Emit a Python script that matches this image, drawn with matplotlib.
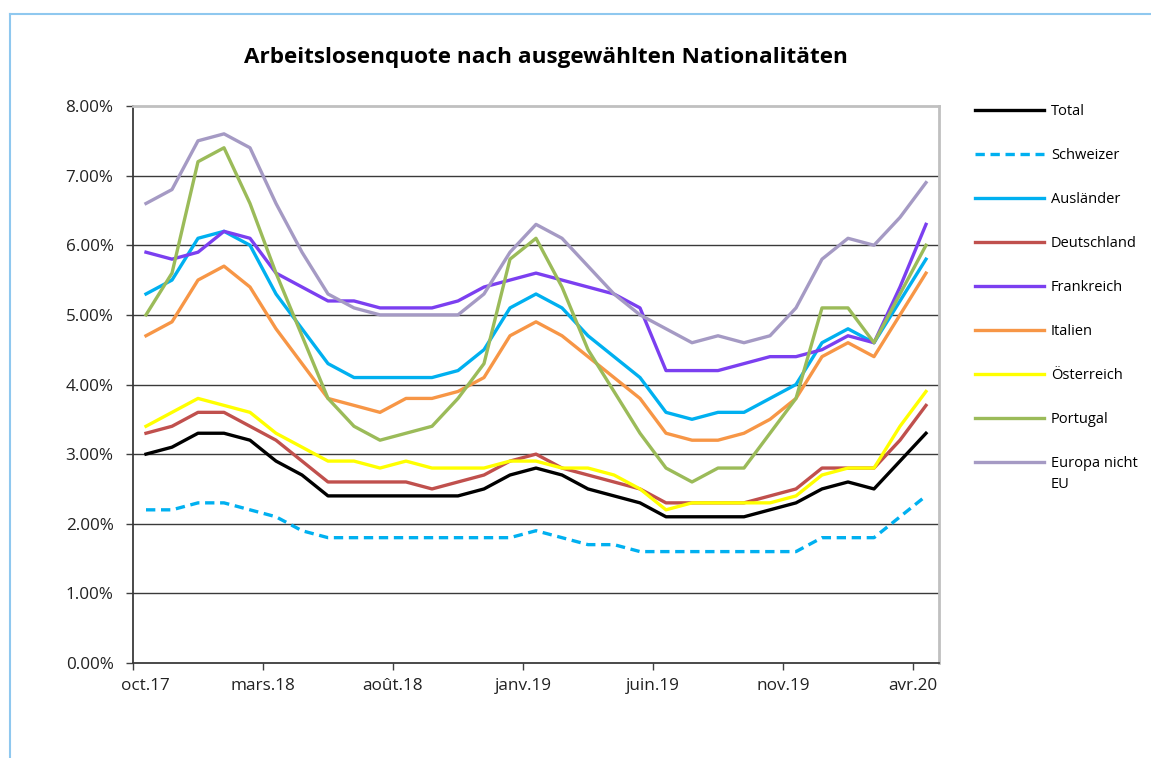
import matplotlib
matplotlib.use("Agg")
import matplotlib.pyplot as plt
import matplotlib.transforms as mtransforms
from matplotlib.lines import Line2D
import numpy as np

plt.rcParams['font.family'] = ['Open Sans', 'DejaVu Sans']

# monthly values oct.17 .. avr.20 (%)
months = ['oct.17', 'nov.17', 'déc.17', 'janv.18', 'févr.18', 'mars.18', 'avr.18', 'mai.18',
          'juin.18', 'juil.18', 'août.18', 'sept.18', 'oct.18', 'nov.18', 'déc.18', 'janv.19',
          'févr.19', 'mars.19', 'avr.19', 'mai.19', 'juin.19', 'juil.19', 'août.19', 'sept.19',
          'oct.19', 'nov.19', 'déc.19', 'janv.20', 'févr.20', 'mars.20', 'avr.20']

total = [3.0, 3.1, 3.3, 3.3, 3.2, 2.9, 2.7, 2.4, 2.4, 2.4, 2.4, 2.4, 2.4, 2.5, 2.7, 2.8,
         2.7, 2.5, 2.4, 2.3, 2.1, 2.1, 2.1, 2.1, 2.2, 2.3, 2.5, 2.6, 2.5, 2.9, 3.3]
schweizer = [2.2, 2.2, 2.3, 2.3, 2.2, 2.1, 1.9, 1.8, 1.8, 1.8, 1.8, 1.8, 1.8, 1.8, 1.8, 1.9,
             1.8, 1.7, 1.7, 1.6, 1.6, 1.6, 1.6, 1.6, 1.6, 1.6, 1.8, 1.8, 1.8, 2.1, 2.4]
auslaender = [5.3, 5.5, 6.1, 6.2, 6.0, 5.3, 4.8, 4.3, 4.1, 4.1, 4.1, 4.1, 4.2, 4.5, 5.1, 5.3,
              5.1, 4.7, 4.4, 4.1, 3.6, 3.5, 3.6, 3.6, 3.8, 4.0, 4.6, 4.8, 4.6, 5.2, 5.8]
deutschland = [3.3, 3.4, 3.6, 3.6, 3.4, 3.2, 2.9, 2.6, 2.6, 2.6, 2.6, 2.5, 2.6, 2.7, 2.9, 3.0,
               2.8, 2.7, 2.6, 2.5, 2.3, 2.3, 2.3, 2.3, 2.4, 2.5, 2.8, 2.8, 2.8, 3.2, 3.7]
frankreich = [5.9, 5.8, 5.9, 6.2, 6.1, 5.6, 5.4, 5.2, 5.2, 5.1, 5.1, 5.1, 5.2, 5.4, 5.5, 5.6,
              5.5, 5.4, 5.3, 5.1, 4.2, 4.2, 4.2, 4.3, 4.4, 4.4, 4.5, 4.7, 4.6, 5.4, 6.3]
italien = [4.7, 4.9, 5.5, 5.7, 5.4, 4.8, 4.3, 3.8, 3.7, 3.6, 3.8, 3.8, 3.9, 4.1, 4.7, 4.9,
           4.7, 4.4, 4.1, 3.8, 3.3, 3.2, 3.2, 3.3, 3.5, 3.8, 4.4, 4.6, 4.4, 5.0, 5.6]
oesterreich = [3.4, 3.6, 3.8, 3.7, 3.6, 3.3, 3.1, 2.9, 2.9, 2.8, 2.9, 2.8, 2.8, 2.8, 2.9, 2.9,
               2.8, 2.8, 2.7, 2.5, 2.2, 2.3, 2.3, 2.3, 2.3, 2.4, 2.7, 2.8, 2.8, 3.4, 3.9]
portugal = [5.0, 5.6, 7.2, 7.4, 6.6, 5.6, 4.7, 3.8, 3.4, 3.2, 3.3, 3.4, 3.8, 4.3, 5.8, 6.1,
            5.4, 4.5, 3.9, 3.3, 2.8, 2.6, 2.8, 2.8, 3.3, 3.8, 5.1, 5.1, 4.6, 5.3, 6.0]
europa_nicht_eu = [6.6, 6.8, 7.5, 7.6, 7.4, 6.6, 5.9, 5.3, 5.1, 5.0, 5.0, 5.0, 5.0, 5.3, 5.9, 6.3,
                   6.1, 5.7, 5.3, 5.0, 4.8, 4.6, 4.7, 4.6, 4.7, 5.1, 5.8, 6.1, 6.0, 6.4, 6.9]

yticks = [0, 1, 2, 3, 4, 5, 6, 7, 8]

fig = plt.figure(figsize=(11.51, 7.58), dpi=100)
ax = fig.add_axes([133/1151, 95/758, 806/1151, 557/758])

x = np.arange(len(months))
lw = 2.4
ax.plot(x, total, color='black', lw=lw, label='Total')
ax.plot(x, schweizer, color='#00b0f0', lw=lw, dashes=(2.8, 1.7), label='Schweizer')
ax.plot(x, auslaender, color='#00b0f0', lw=lw, label='Ausländer')
ax.plot(x, deutschland, color='#c0504d', lw=lw, label='Deutschland')
ax.plot(x, frankreich, color='#7b3ff0', lw=lw, label='Frankreich')
ax.plot(x, italien, color='#f79646', lw=lw, label='Italien')
ax.plot(x, oesterreich, color='#ffff00', lw=lw, label='Österreich')
ax.plot(x, portugal, color='#9bbb59', lw=lw, label='Portugal')
ax.plot(x, europa_nicht_eu, color='#a59ac4', lw=lw, label='Europa nicht')

ax.set_xlim(-0.5, len(months) - 0.5)
ax.set_ylim(0, 8)
ax.set_yticks(yticks)
ax.set_yticklabels(['%.2f%%' % v for v in yticks])
tick_pos = np.arange(0, len(months), 5)
ax.set_xticks(tick_pos - 0.5)
ax.set_xticklabels([months[i] for i in tick_pos])
ax.tick_params(axis='both', direction='out', length=5, width=1, color='#404040',
               labelsize=12.3, labelcolor='#222222')
ax.tick_params(axis='y', pad=9)
ax.tick_params(axis='x', pad=6)
# first label sits a bit to the right in the original
off = mtransforms.ScaledTranslation(0.12, 0, fig.dpi_scale_trans)
first = ax.get_xticklabels()[0]
first.set_transform(first.get_transform() + off)

for v in yticks[1:-1]:
    ax.axhline(v, color='#3a3a3a', lw=1, zorder=0)
ax.spines['top'].set_color('#c0c0c0')
ax.spines['top'].set_linewidth(2)
ax.spines['right'].set_color('#c0c0c0')
ax.spines['right'].set_linewidth(2)
ax.spines['left'].set_color('#3a3a3a')
ax.spines['left'].set_linewidth(1.3)
ax.spines['bottom'].set_color('#3a3a3a')
ax.spines['bottom'].set_linewidth(1.3)

fig.text(546/1151, 1 - 57/758, 'Arbeitslosenquote nach ausgewählten Nationalitäten',
         ha='center', va='center', fontsize=16.2, fontweight='bold')

leg = fig.legend(loc='upper left', bbox_to_anchor=(975/1151, 1 - 104/758), frameon=False,
                 fontsize=10.5, handlelength=4.7, handletextpad=0.5, labelspacing=1.99,
                 borderpad=0, borderaxespad=0)
fig.canvas.draw()
bb = leg.get_texts()[-1].get_window_extent()
fig.text(bb.x0 / fig.bbox.width, (bb.y0 - 21) / fig.bbox.height, 'EU',
         fontsize=10.5, ha='left', va='bottom')

# light blue frame round the chart
fig.add_artist(Line2D([10/1151, 10/1151], [0, 1 - 14/758], color='#8fc8ef', lw=1.5,
                      transform=fig.transFigure))
fig.add_artist(Line2D([10/1151, 1], [1 - 14/758, 1 - 14/758], color='#8fc8ef', lw=1.5,
                      transform=fig.transFigure))

fig.savefig('out.png', dpi=100)
